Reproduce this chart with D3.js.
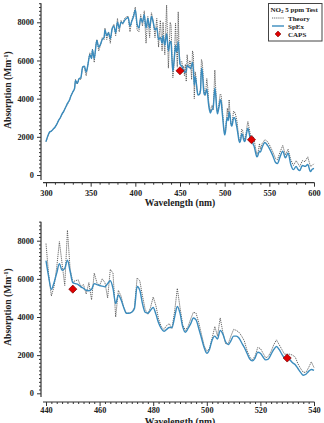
<!DOCTYPE html>
<html><head><meta charset="utf-8">
<script src="https://cdn.jsdelivr.net/npm/d3@7"></script>
<style>
body{margin:0;background:#fff}
svg{display:block}
text{font-family:"Liberation Serif","Times New Roman",serif;font-weight:bold;fill:#222}
</style>
</head><body><svg width="324" height="423"></svg>
<script>
const wavelength=[300,302,304,306,308,310,312,314,316,318,320,322,324,326,328,330,332,333,335,337,339,341,343,345,347,349,351,352,354,356,357,359,361,363,365,366,368,370,372,374,376,378,380,382,384,386,388,390,392,394,396,398,400,402,404,406,408,410,412,414,416,418,420,422,424,426,428,430,431,433,435,437,439,
440,441,442,443,444,445,446,447,448,449,450,451,452,453,454,455,456,457,458,459,460,461,462,463,464,465,466,467,468,469,470,471,472,473,474,475,476,477,478,479,480,481,482,483,484,485,486,487,488,489,490,491,492,493,494,495,496,497,498,499,500,501,502,503,504,505,506,507,508,509,510,511,512,513,514,515,516,517,518,519,520,521,522,523,524,525,526,527,528,529,530,531,532,533,534,535,536,537,538,539,540,
542,545,548,551,554,557,559,562,565,568,571,574,577,580,582,584,587,590,593,596,598,600];
const theory=[1750,2000,2250,2300,2400,2500,2650,2850,3000,3200,3350,3550,3700,3900,4150,4350,4500,5000,4750,5050,5000,5700,5600,5200,5800,6400,6100,6600,5900,6900,7100,6500,6800,7200,7100,7700,7100,7500,6900,7700,7900,7300,8200,7500,8100,7900,8200,8300,8300,7500,8100,8400,8800,7600,7500,8400,7800,8600,6900,8300,7200,8500,8100,7200,8200,6700,8100,6500,8000,6300,8900,5600,8000,
7850,6200,5100,5600,6600,7950,6800,5650,8550,6500,5850,5900,5950,5600,5700,5200,5800,4900,6300,5800,5650,6000,5800,5000,6500,6300,4000,5400,5100,4500,4200,4200,4250,4500,6050,5900,5100,4400,4150,4500,5050,4600,3900,3500,3350,3550,3650,3400,4300,5500,4500,3600,3300,3500,3900,4250,4200,3700,3100,2500,2200,2350,2900,3500,3000,3950,3200,2600,2600,3000,3350,3300,3200,3000,2750,2250,1900,1750,1950,2400,2350,2100,1850,1950,2200,2550,2800,2550,2300,2050,2050,2050,2000,1900,1550,1300,1100,1100,1350,1650,1350,
1650,1850,1750,1500,1200,850,800,1200,1550,1050,1350,800,500,750,600,450,750,700,950,450,500,600];
const spex=[1750,2050,2250,2300,2400,2500,2650,2850,3000,3200,3350,3550,3750,3900,4150,4350,4550,4950,4800,5050,5100,5650,5700,5400,5800,6300,6100,6550,6100,6800,7050,6700,6850,7100,7200,7600,7300,7450,7150,7650,7800,7450,8000,7700,8000,7950,8100,8200,8250,7800,8050,8300,8650,7900,7700,8200,8000,8400,7700,8200,7700,8300,8000,7600,7700,7100,7200,6900,7300,6800,7400,6500,7000,
6950,6100,5450,5800,6300,6800,6450,6550,6980,6400,5800,5750,5700,5580,5500,5400,5380,5450,5750,5700,5650,5620,5580,5750,5900,5500,4700,5150,4900,4500,4200,4200,4250,4450,5600,5400,4700,4250,4200,4350,4500,4150,3700,3400,3250,3350,3450,3450,4000,4550,4200,3500,3200,3400,3650,3950,3850,3400,2900,2400,2100,2300,2800,3000,2850,3300,3100,2700,2550,2750,3000,3000,2900,2650,2400,2100,1800,1700,1850,2150,2100,1900,1750,1800,2050,2300,2450,2300,2050,1850,1800,1750,1600,1500,1300,1100,950,1000,1150,1250,1200,
1450,1700,1550,1300,1000,650,600,950,1250,900,1150,550,280,450,300,230,500,450,550,180,300,350];
const capsWavelength=[450,530];
const capsValue=[5460,1850];
const topXTicks=[300,350,400,450,500,550,600];
const bottomXTicks=[440,460,480,500,520,540];
const yTicks=[0,2000,4000,6000,8000];

const svg=d3.select("svg");
const rows=wavelength.map((w,i)=>({w,t:theory[i],s:spex[i]}));

function panel(c){
  const g=svg.append("g");
  const x=d3.scaleLinear().domain(c.xDomain).range([46,314]);
  const y=d3.scaleLinear().domain([0,8000]).range([c.y0,c.y8000]);
  const data=rows.filter(d=>d.w>=c.xDomain[0]&&d.w<=c.xDomain[1]);
  g.append("line").attr("x1",41).attr("x2",41).attr("y1",y(9000)).attr("y2",c.yAxisBottom).attr("stroke","#333").attr("stroke-width",1.2);
  g.append("line").attr("x1",43).attr("x2",314.5).attr("y1",c.xAxisY).attr("y2",c.xAxisY).attr("stroke","#333").attr("stroke-width",1.2);
  const yMinor=d3.range(0,9001,200).filter(v=>v%2000!==0);
  const ya=g.append("g").attr("transform","translate(41,0)")
    .call(d3.axisLeft(y).tickValues(yMinor).tickSize(2).tickFormat(""));
  ya.select(".domain").remove();
  const yb=g.append("g").attr("transform","translate(41,0)")
    .call(d3.axisLeft(y).tickValues(yTicks).tickSize(4).tickPadding(3).tickFormat(d3.format("d")));
  yb.select(".domain").remove();
  yb.selectAll("text").attr("font-size",8.3).attr("font-family","Liberation Serif").attr("font-weight","bold").attr("fill","#222");
  const xMinor=d3.range(c.xDomain[0],c.xDomain[1]+0.001,c.minorStep).filter(v=>!c.xTicks.includes(v));
  const xa=g.append("g").attr("transform",`translate(0,${c.xAxisY})`)
    .call(d3.axisBottom(x).tickValues(xMinor).tickSize(2).tickFormat(""));
  xa.select(".domain").remove();
  const xb=g.append("g").attr("transform",`translate(0,${c.xAxisY})`)
    .call(d3.axisBottom(x).tickValues(c.xTicks).tickSize(4).tickPadding(c.xPad).tickFormat(d3.format("d")));
  xb.select(".domain").remove();
  g.selectAll(".tick line").attr("stroke","#333");
  xb.selectAll("text").attr("font-size",8.3).attr("font-family","Liberation Serif").attr("font-weight","bold").attr("fill","#222");
  g.append("text").attr("x",180).attr("y",c.titleY).attr("text-anchor","middle").attr("font-size",9.6).text("Wavelength (nm)");
  const yt=g.append("text").attr("transform",`translate(11,${c.yTitleY}) rotate(-90)`).attr("text-anchor","middle").attr("font-size",9.6);
  yt.append("tspan").text("Absorption (Mm");
  yt.append("tspan").attr("dy",-3.5).attr("font-size",6.5).text("-1");
  yt.append("tspan").attr("dy",3.5).text(")");
  g.append("path").datum(data).attr("fill","none").attr("stroke","#555").attr("stroke-width",0.9).attr("stroke-dasharray","1.2,0.9")
    .attr("d",d3.line().x(d=>x(d.w)).y(d=>y(d.t)));
  g.append("path").datum(data).attr("fill","none").attr("stroke","#3a8bbd").attr("stroke-width",1.4)
    .attr("d",d3.line().curve(d3.curveMonotoneX).x(d=>x(d.w)).y(d=>y(d.s)));
  g.selectAll("path.caps").data(capsWavelength.map((w,i)=>({w,v:capsValue[i]}))).join("path").attr("class","caps")
    .attr("transform",d=>`translate(${x(d.w)},${y(d.v)})`)
    .attr("d",d3.symbol(d3.symbolDiamond2,42)).attr("fill","#e00000").attr("stroke","#7a0000").attr("stroke-width",0.7);
  return g;
}

panel({xDomain:[300,600],xTicks:topXTicks,minorStep:10,y0:175,y8000:22.3,yAxisBottom:180,xAxisY:182.7,xPad:3,titleY:205.5,yTitleY:90});
panel({xDomain:[440,540],xTicks:bottomXTicks,minorStep:2,y0:393.3,y8000:240.7,yAxisBottom:397,xAxisY:402,xPad:1.5,titleY:424.5,yTitleY:307});

const lg=svg.append("g");
lg.append("rect").attr("x",268.5).attr("y",3.5).attr("width",53.5).attr("height",37.5).attr("fill","#fff").attr("stroke","#444").attr("stroke-width",1);
const t1=lg.append("text").attr("x",270.5).attr("y",11.5).attr("font-size",7);
t1.append("tspan").text("NO");
t1.append("tspan").attr("dy",1.5).attr("font-size",5).text("2");
t1.append("tspan").attr("dy",-1.5).text(" 5 ppm Test");
lg.append("line").attr("x1",272).attr("x2",284).attr("y1",18).attr("y2",18).attr("stroke","#555").attr("stroke-width",0.9).attr("stroke-dasharray","1.2,0.9");
lg.append("text").attr("x",288).attr("y",20.5).attr("font-size",7).text("Theory");
lg.append("line").attr("x1",272).attr("x2",284).attr("y1",26).attr("y2",26).attr("stroke","#3a8bbd").attr("stroke-width",1.4);
lg.append("text").attr("x",288).attr("y",28.5).attr("font-size",7).text("SpEx");
lg.append("path").attr("transform","translate(278,34)").attr("d",d3.symbol(d3.symbolDiamond2,22)).attr("fill","#e00000").attr("stroke","#7a0000").attr("stroke-width",0.6);
lg.append("text").attr("x",288).attr("y",36.5).attr("font-size",7).text("CAPS");
</script>
</body></html>
